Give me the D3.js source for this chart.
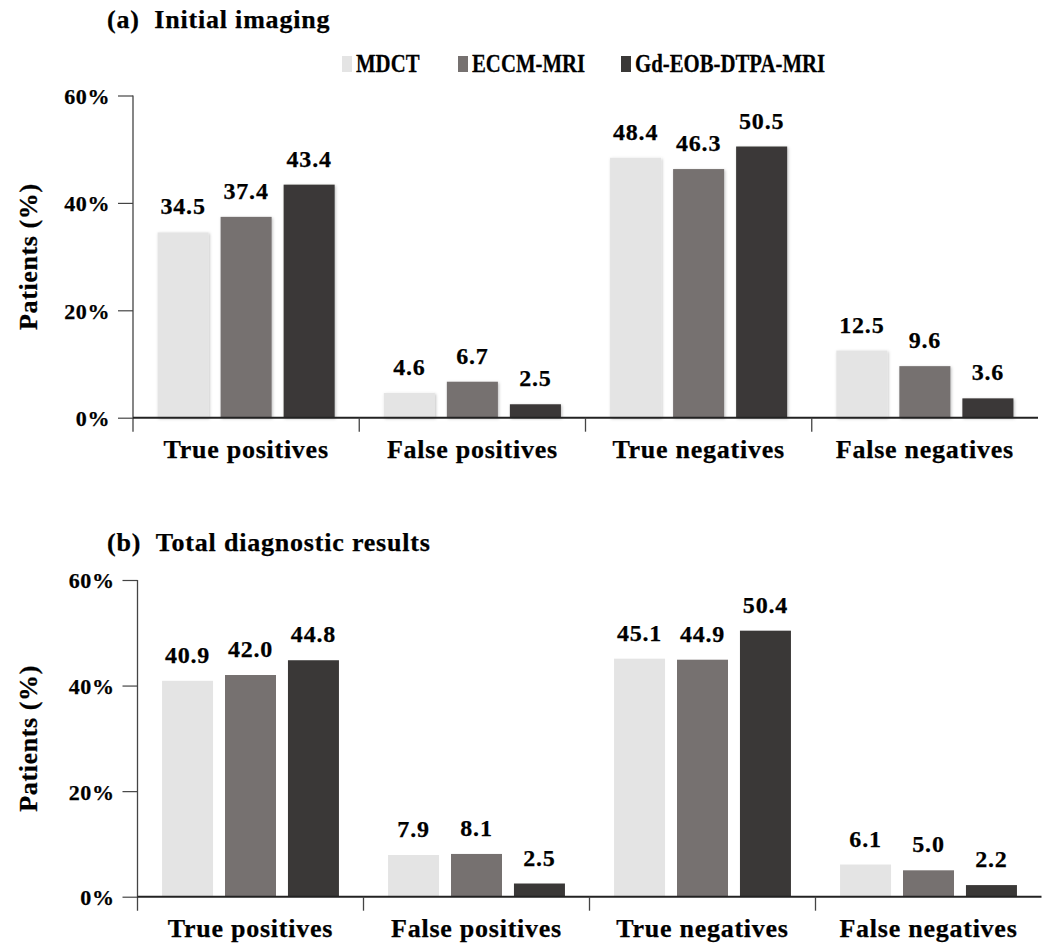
<!DOCTYPE html>
<html>
<head>
<meta charset="utf-8">
<script src="https://cdn.jsdelivr.net/npm/d3@7"></script>
<style>
  html, body { margin: 0; padding: 0; background: #fff; }
</style>
</head>
<body>
<svg id="chart" width="1047" height="945"></svg>
<script>
// ---- data ----
const categories = ["True positives", "False positives", "True negatives", "False negatives"];
const seriesNames = ["MDCT", "ECCM-MRI", "Gd-EOB-DTPA-MRI"];
const seriesColors = ["#e4e4e4", "#767170", "#3a3837"];

const initialMDCT = [34.5, 4.6, 48.4, 12.5];
const initialECCM = [37.4, 6.7, 46.3, 9.6];
const initialGd   = [43.4, 2.5, 50.5, 3.6];

const totalMDCT = [40.9, 7.9, 45.1, 6.1];
const totalECCM = [42.0, 8.1, 44.9, 5.0];
const totalGd   = [44.8, 2.5, 50.4, 2.2];

const yTicks = [0, 20, 40, 60];
const yTickLabels = ["0%", "20%", "40%", "60%"];
const panelTitles = ["(a)\u00a0\u00a0Initial imaging", "(b)\u00a0\u00a0Total diagnostic results"];
const yAxisTitle = "Patients (%)";

const FONT = '"Liberation Serif", "Times New Roman", Times, serif';

// ---- drawing ----
const svg = d3.select("#chart");
const defs = svg.append("defs");
const f = defs.append("filter").attr("id", "shadow")
  .attr("x", "-20%").attr("y", "-20%").attr("width", "140%").attr("height", "140%");
f.append("feDropShadow").attr("dx", 1).attr("dy", 1).attr("stdDeviation", 1.6)
  .attr("flood-color", "#000").attr("flood-opacity", 0.25);

function styleText(sel, size, ls) {
  return sel.style("font-family", FONT).style("font-weight", "bold")
    .style("font-size", size + "px").style("letter-spacing", ls + "px")
    .attr("fill", "#000").attr("stroke", "#000").attr("stroke-width", 0.25);
}

function drawPanel(cfg) {
  const { values, x0, x1, yBase, yTop, title, titleY, shadow } = cfg;
  const g = svg.append("g");

  const x = d3.scaleBand().domain(categories).range([x0, x1]).paddingInner(0).paddingOuter(0);
  const xs = d3.scaleBand().domain(seriesNames).range([0, x.bandwidth()])
    .paddingInner(0.19).paddingOuter(0.39);
  const y = d3.scaleLinear().domain([0, 60]).range([yBase, yTop]);

  // title
  styleText(g.append("text").attr("x", 107).attr("y", titleY), 26, 0.8).text(title);

  // bars
  const rows = categories.map((c, i) => ({ cat: c, vals: seriesNames.map((s, j) => ({ s, j, v: values[j][i] })) }));
  const grp = g.selectAll("g.cat").data(rows).join("g")
    .attr("class", "cat")
    .attr("transform", d => `translate(${x(d.cat)},0)`);

  grp.selectAll("rect").data(d => d.vals).join("rect")
    .attr("x", d => xs(d.s))
    .attr("y", d => y(d.v))
    .attr("width", xs.bandwidth())
    .attr("height", d => y(0) - y(d.v))
    .attr("fill", d => seriesColors[d.j])
    .attr("filter", shadow ? "url(#shadow)" : null);

  styleText(grp.selectAll("text.val").data(d => d.vals).join("text")
    .attr("class", "val")
    .attr("x", d => xs(d.s) + xs.bandwidth() / 2)
    .attr("y", d => y(d.v) - 18)
    .attr("text-anchor", "middle"), 24, 0.8)
    .text(d => d.v.toFixed(1));

  // y axis
  const yAxis = d3.axisLeft(y).tickValues(yTicks).tickSize(15).tickPadding(8)
    .tickFormat((d, i) => yTickLabels[i]);
  const ya = g.append("g").attr("transform", `translate(${x0},0)`).call(yAxis);
  ya.select(".domain").remove();
  ya.selectAll(".tick line").attr("stroke", "#444").attr("stroke-width", 1.2);
  styleText(ya.selectAll(".tick text"), 22, 0.6).attr("dy", "0.36em");
  g.append("line").attr("x1", x0).attr("x2", x0).attr("y1", yTop).attr("y2", yBase + 14)
    .attr("stroke", "#444").attr("stroke-width", 1.3);

  // x axis
  g.append("line").attr("x1", x0).attr("x2", x1).attr("y1", yBase).attr("y2", yBase)
    .attr("stroke", "#222").attr("stroke-width", 2);
  g.selectAll("line.sep").data(categories.slice(1)).join("line")
    .attr("class", "sep")
    .attr("x1", d => x(d)).attr("x2", d => x(d))
    .attr("y1", yBase).attr("y2", yBase + 14)
    .attr("stroke", "#444").attr("stroke-width", 1.3);
  styleText(g.selectAll("text.cat").data(categories).join("text")
    .attr("class", "cat")
    .attr("x", d => x(d) + x.bandwidth() / 2)
    .attr("y", yBase + 40)
    .attr("text-anchor", "middle"), 26, 0.75)
    .text(d => d);

  // y axis title
  styleText(g.append("text")
    .attr("transform", `translate(37,${(yBase + yTop) / 2}) rotate(-90)`)
    .attr("text-anchor", "middle"), 26, 0.6)
    .text(yAxisTitle);
}

drawPanel({
  values: [initialMDCT, initialECCM, initialGd],
  x0: 133, x1: 1038, yBase: 417.7, yTop: 95.5,
  title: panelTitles[0], titleY: 28, shadow: true
});
drawPanel({
  values: [totalMDCT, totalECCM, totalGd],
  x0: 137.5, x1: 1041.5, yBase: 896.7, yTop: 580,
  title: panelTitles[1], titleY: 551, shadow: false
});

// legend (condensed type, as in the reference)
const legendX = [342, 458, 621];
const legend = svg.append("g");
seriesNames.forEach((s, i) => {
  legend.append("rect").attr("x", legendX[i]).attr("y", 56).attr("width", 10).attr("height", 16)
    .attr("fill", seriesColors[i]);
  styleText(legend.append("text")
    .attr("transform", `translate(${legendX[i] + 14},72) scale(0.8,1)`), 26, 0)
    .text(s);
});
</script>
</body>
</html>
